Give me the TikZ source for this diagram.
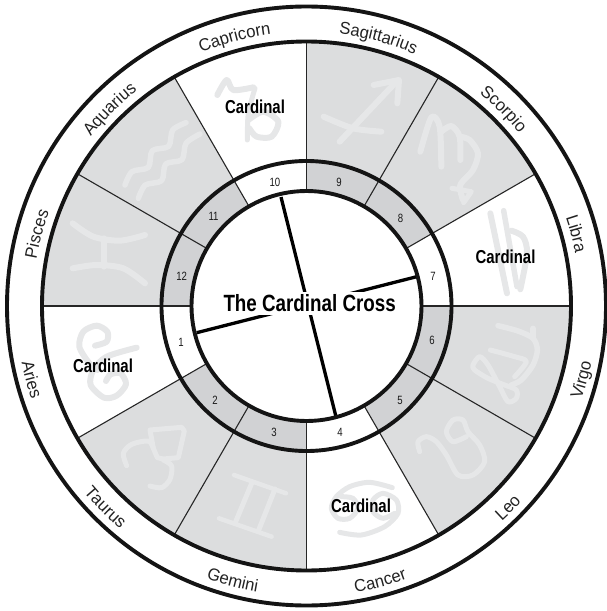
\documentclass[tikz,border=0pt]{standalone}
\usepackage{fontspec}
\usetikzlibrary{decorations.text}
\setmainfont{Liberation Sans}
\newfontfamily\narrowbold[FakeStretch=0.80]{Liberation Sans Bold}
\newfontfamily\narrowreg[FakeStretch=0.80]{Liberation Sans}
\newfontfamily\labelreg[FakeStretch=0.97]{Liberation Sans}
\definecolor{zonegrey}{HTML}{DCDDDE}
\definecolor{ringgrey}{HTML}{D1D2D4}
\definecolor{glyphgrey}{HTML}{E6E7E8}
\newcommand\labf{\fontsize{17.2}{18}\labelreg\color[HTML]{222222}}
\newcommand\signtop[2]{\path[decorate,decoration={text along path,text align=center,text={|\labf|#2}}]
  ({#1+28}:274) arc[start angle={#1+28},delta angle=-56,radius=274];}
\newcommand\signbot[2]{\path[decorate,decoration={text along path,text align=center,text={|\labf|#2}}]
  ({#1-28}:290.5) arc[start angle={#1-28},delta angle=56,radius=290.5];}
\tikzset{
  ringline/.style={draw=black!92,line width=3.9pt},
  spoke/.style={draw=black!85,line width=1.1pt},
  crossline/.style={draw=black,line width=3.3pt},
  glyph/.style={draw=glyphgrey,line cap=round,line join=round,line width=#1},
  glyph/.default=5pt,
  zq/.style 2 args={shift={(#1,#2)},x=0.33333pt,y=-0.33333pt},
  cardlabel/.style={font=\fontsize{18.7}{20}\narrowbold,inner sep=0pt},
  housenum/.style={font=\fontsize{12}{13}\narrowreg,text=black!90,inner sep=0pt},
}
\begin{document}
\begin{tikzpicture}[x=1pt,y=1pt]
\useasboundingbox (-306.5,-305) rectangle (299.5,306);
% sectors
\foreach \a in {120,150,30,60,-30,-60,-120,-150}{
  \fill[zonegrey] (\a:145) -- (\a:264.5) arc[start angle=\a,delta angle=30,radius=264.5] -- ({\a+30}:145) arc[start angle={\a+30},delta angle=-30,radius=145] -- cycle;
  \fill[ringgrey] (\a:115) -- (\a:145) arc[start angle=\a,delta angle=30,radius=145] -- ({\a+30}:115) arc[start angle={\a+30},delta angle=-30,radius=115] -- cycle;
}
% glyphs drawn in zoom coordinates of each quadrant
\begin{scope}[zq={-306.5}{306}]
 % capricorn
 \draw[glyph=6pt] plot[smooth] coordinates {(652,285)(680,240)(700,270)(760,262)};
 \draw[glyph=5pt] plot[smooth] coordinates {(765,265)(745,340)(742,420)};
 \draw[glyph=6pt] plot[smooth] coordinates {(745,360)(790,335)(835,365)(815,410)(770,410)(748,385)};
 % aquarius
 \draw[glyph=5.5pt] plot[smooth] coordinates {(375,555)(396,515)(445,502)(457,452)(506,439)(518,390)(558,368)};
 \draw[glyph=5.5pt] plot[smooth] coordinates {(415,595)(436,555)(485,542)(497,492)(546,479)(558,430)(600,402)};
 % pisces
 \draw[glyph=6pt] plot[smooth] coordinates {(218,670)(280,710)(360,722)(435,705)};
 \draw[glyph=6pt] plot[smooth] coordinates {(218,805)(290,795)(370,805)(435,850)};
 \draw[glyph=6pt] (312,715) -- (312,800);
\end{scope}
\begin{scope}[zq={-3.5}{306}]
 % sagittarius
 \draw[glyph=6pt] (110,425) -- (280,245);
 \draw[glyph=6pt] (212,255) -- (288,240) -- (283,310);
 \draw[glyph=6pt] plot[smooth] coordinates {(62,350)(150,385)(235,395)};
 % scorpio
 \draw[glyph=6pt] plot[smooth] coordinates {(352,455)(385,352)(410,380)(415,500)};
 \draw[glyph=6pt] plot[smooth] coordinates {(415,395)(445,378)(470,410)(472,480)};
 \draw[glyph=6pt] plot[smooth] coordinates {(472,410)(500,420)(525,460)(510,510)(472,555)(480,600)};
 \draw[glyph=5pt] (447,565) -- (505,575) -- (482,608);
 % libra
 \draw[glyph=6pt] (562,640) -- (612,880);
 \draw[glyph=5.5pt] (602,632) -- (642,860);
 \draw[glyph=6pt] plot[smooth] coordinates {(625,692)(660,710)(672,760)(652,868)};
\end{scope}
\begin{scope}[zq={-306.5}{1}]
 % aries symbol
 \draw[glyph=6pt] plot[smooth] coordinates {(285,122)(320,110)(322,80)(290,62)(250,80)(238,125)(268,175)(292,195)};
 \draw[glyph=6pt] plot[smooth] coordinates {(410,128)(320,155)(280,195)(272,240)(312,278)(350,272)(378,238)(362,205)(332,208)(318,228)};
 % taurus
 \draw[glyph=5pt] (450,375) -- (545,367) -- (553,378) -- (535,458) -- (490,462) -- (472,458) -- (460,430) -- cycle;
 \draw[glyph=5pt] plot[smooth] coordinates {(380,482)(370,445)(395,418)(445,408)(460,430)};
 \draw[glyph=5pt] plot[smooth] coordinates {(490,465)(515,483)(510,523)(485,548)(450,543)};
 % gemini
 \draw[glyph=4.5pt] (702,510) -- (858,565);
 \draw[glyph=4.5pt] (657,640) -- (815,695);
 \draw[glyph=5pt] (755,535) -- (705,655);
 \draw[glyph=5pt] (825,552) -- (775,678);
\end{scope}
\begin{scope}[zq={-3.5}{1}]
 % virgo
 \draw[glyph=5.5pt] plot[smooth] coordinates {(585,62)(645,78)(690,100)(703,135)(690,180)(655,225)(625,240)};
 \draw[glyph=5.5pt] (690,70) -- (690,100);
 \draw[glyph=5pt] plot[smooth] coordinates {(562,135)(635,155)(670,170)(635,215)};
 \draw[glyph=5pt] plot[smooth cycle] coordinates {(510,180)(530,155)(555,180)(590,245)(615,290)(640,280)(640,255)(605,240)(555,220)(515,195)};
 % leo
 \draw[glyph=5pt] plot[smooth] coordinates {(350,440)(345,410)(370,395)(400,410)(430,450)(465,510)(510,510)(545,470)(530,420)(495,380)(480,345)(450,345)(430,380)(450,410)(490,395)};
 % cancer
 \draw[glyph=5pt] plot[smooth] coordinates {(268,548)(200,532)(140,545)(100,575)(85,610)(105,640)(140,640)(165,610)(150,580)(115,575)};
 \draw[glyph=5pt] plot[smooth] coordinates {(110,682)(175,690)(245,665)(285,625)(280,585)(240,565)(210,585)(210,620)(240,640)(275,625)};
\end{scope}
% spokes
\foreach \a in {0,30,...,330}{\draw[spoke] (\a:115) -- (\a:264.5);}
% cross
\coordinate (h1) at (-109.8,-26.7);
\coordinate (h7) at (110.2,29.3);
\coordinate (h10) at (-25.5,109);
\coordinate (h4) at (29.5,-110.7);
\draw[crossline] (h1) -- (h7);
\draw[crossline] (h10) -- (h4);
% rings
\foreach \r in {115,145,264.5,299.5}{\draw[ringline] (0,0) circle[radius=\r];}
% title
\node[fill=white,minimum width=173pt,minimum height=23pt,inner sep=0pt] (titlebg) at (3.2,3) {};
\node[font=\fontsize{23.5}{25}\narrowbold,inner sep=0pt] (title) at (3.2,3.3) {The Cardinal Cross};
% cardinal labels
\node[cardlabel] (cardcap) at (-51.5,199.5) {Cardinal};
\node[cardlabel] (cardlib) at (199,49) {Cardinal};
\node[cardlabel] (cardcan) at (54.5,-200) {Cardinal};
\node[cardlabel] (cardari) at (-203.5,-59.5) {Cardinal};
% house numbers
\node[housenum] (h01) at (-125.5,-36) {1};
\node[housenum] (h02) at (-91.5,-94) {2};
\node[housenum] (h03) at (-32.5,-126) {3};
\node[housenum] (h04) at (33.5,-126) {4};
\node[housenum] (h05) at (93.5,-94) {5};
\node[housenum] (h06) at (125.5,-34) {6};
\node[housenum] (h07) at (126.5,29.3) {7};
\node[housenum] (h08) at (94,88) {8};
\node[housenum] (h09) at (32.5,124) {9};
\node[housenum] (h10n) at (-31.5,123.3) {10};
\node[housenum] (h11) at (-93,89.3) {11};
\node[housenum] (h12) at (-124.8,29.3) {12};
% sign names
\signtop{105}{Capricorn}
\signtop{75}{Sagittarius}
\signtop{45}{Scorpio}
\signtop{15}{Libra}
\signtop{135}{Aquarius}
\signtop{165}{Pisces}
\signbot{-15}{Virgo}
\signbot{-45}{Leo}
\signbot{-75}{Cancer}
\signbot{-105}{Gemini}
\signbot{-135}{Taurus}
\signbot{-165}{Aries}
\end{tikzpicture}
\end{document}
